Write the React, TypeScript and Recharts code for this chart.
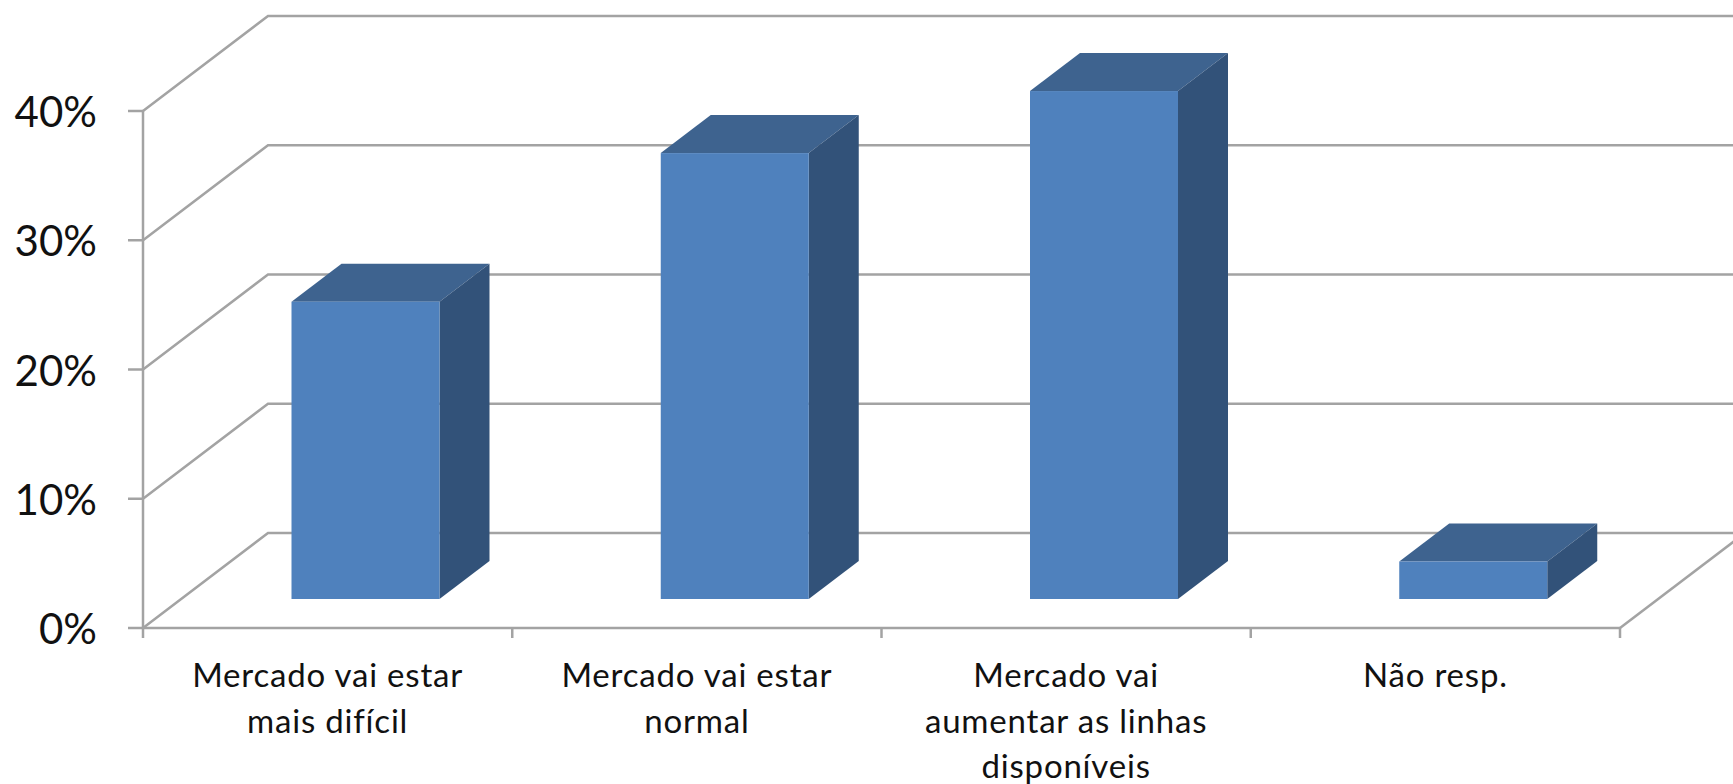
import { BarChart, Bar, XAxis, YAxis, CartesianGrid } from "recharts";

const categories = ["Mercado vai estar mais difícil", "Mercado vai estar normal", "Mercado vai aumentar as linhas disponíveis", "Não resp."];
const categoryLines = [
  ["Mercado vai estar", "mais difícil"],
  ["Mercado vai estar", "normal"],
  ["Mercado vai", "aumentar as linhas", "disponíveis"],
  ["Não resp."],
];
const values = [23.0, 34.5, 39.3, 2.9];
const yTicks = [0, 10, 20, 30, 40];

const chartData = categories.map((name, i) => ({ name, value: values[i] }));

const GRID_COLOR = "#a3a3a3";
const WALL_DX = 125;
const WALL_DY = 95;
const BAND = 369.25;

function WallLine(props: any) {
  const { x1, y1, x2 } = props;
  const isFloor = y1 > 600;
  return (
    <g fill="none" stroke={GRID_COLOR} strokeWidth={2.5}>
      <path d={`M${x1},${y1}L${x1 + WALL_DX},${y1 - WALL_DY}L1733,${y1 - WALL_DY}`} />
      {isFloor && <path d={`M${x2},${y1}L${x2 + WALL_DX},${y1 - WALL_DY}`} />}
    </g>
  );
}

function Bar3D(props: any) {
  const { x, y, width, height } = props;
  const fx = x + 1;
  const fy = y - 29;
  const dx = 50;
  const dy = 38;
  return (
    <g transform={`translate(36.5,0)`}>
      <polygon
        points={`${fx},${fy} ${fx + dx},${fy - dy} ${fx + width + dx},${fy - dy} ${fx + width},${fy}`}
        fill="#3e638f"
      />
      <polygon
        points={`${fx + width},${fy} ${fx + width + dx},${fy - dy} ${fx + width + dx},${fy + height - dy} ${fx + width},${fy + height}`}
        fill="#325279"
      />
      <rect x={fx} y={fy} width={width} height={height} fill="#4f81bd" />
    </g>
  );
}

function CategoryTick(props: any) {
  const { x, index } = props;
  const lines = categoryLines[index] || [];
  const left = x - BAND / 2;
  const right = x + BAND / 2;
  return (
    <g>
      <line x1={left} y1={628} x2={left} y2={638} stroke={GRID_COLOR} strokeWidth={2.5} />
      {index === categories.length - 1 && (
        <line x1={right} y1={628} x2={right} y2={638} stroke={GRID_COLOR} strokeWidth={2.5} />
      )}
      {lines.map((line: string, i: number) => (
        <text
          key={line}
          x={x}
          y={687 + i * 45.5}
          textAnchor="middle"
          fill="#111"
          fontSize={33}
          letterSpacing={0.8}
          fontFamily="Lato, sans-serif"
        >
          {line}
        </text>
      ))}
    </g>
  );
}

function ValueTick(props: any) {
  const { x, y, payload } = props;
  return (
    <text x={x} y={y + 16} textAnchor="end" fill="#111" fontSize={42} fontFamily="Lato, sans-serif">
      {`${payload.value}%`}
    </text>
  );
}

export default function App() {
  return (
    <div style={{ position: "absolute", left: 0, top: 0, width: 1733, height: 784, background: "#fff" }}>
      <BarChart
        width={1733}
        height={784}
        data={chartData}
        margin={{ top: 111, right: 113, bottom: 0, left: 0 }}
        style={{ overflow: "hidden" }}
      >
        <CartesianGrid vertical={false} horizontal={(p: any) => <WallLine key={p.index} {...p} />} />
        <XAxis
          dataKey="name"
          height={156}
          interval={0}
          axisLine={{ stroke: GRID_COLOR, strokeWidth: 2.5 }}
          tickLine={false}
          tick={<CategoryTick />}
        />
        <YAxis
          width={143}
          domain={[0, 40]}
          ticks={yTicks}
          axisLine={{ stroke: GRID_COLOR, strokeWidth: 2.5 }}
          tickLine={{ stroke: GRID_COLOR, strokeWidth: 2.5 }}
          tickSize={15}
          tickMargin={31}
          tick={<ValueTick />}
        />
        <Bar dataKey="value" barSize={148} shape={<Bar3D />} isAnimationActive={false} />
      </BarChart>
    </div>
  );
}
